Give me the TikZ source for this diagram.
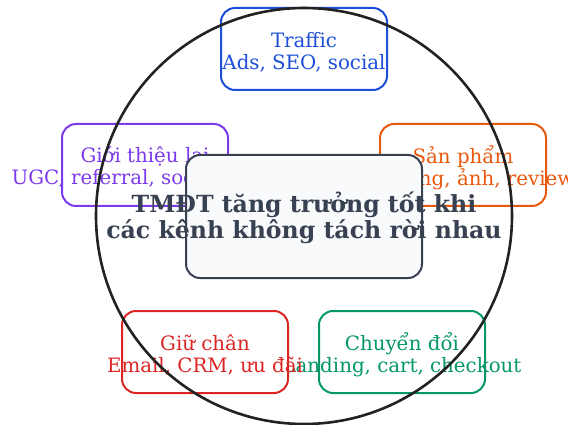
\documentclass[tikz,border=0pt]{standalone}
\usepackage{fontspec}
\setmainfont{DejaVu Serif}
\definecolor{cblue}{HTML}{1D4ED8}
\definecolor{cpurple}{HTML}{7C3AED}
\definecolor{corange}{HTML}{EA580C}
\definecolor{cred}{HTML}{DC2626}
\definecolor{cgreen}{HTML}{059669}
\definecolor{cslate}{HTML}{374151}
\definecolor{cfill}{HTML}{F8FAFC}
\definecolor{cring}{HTML}{222222}
\begin{document}
\begin{tikzpicture}[x=1pt,y=-1pt,
  card/.style={draw=#1, line width=2pt, rounded corners=14pt, minimum width=166pt, minimum height=82pt, fill=white, inner sep=0pt},
  cardtext/.style={text=#1, font=\fontsize{19.8}{22}\selectfont, align=center, inner sep=0pt},
  hub/.style={draw=cslate, line width=2pt, rounded corners=14pt, minimum width=236pt, minimum height=123pt, fill=cfill, inner sep=0pt},
  hubtext/.style={text=cslate, font=\bfseries\fontsize{23.6}{26.5}\selectfont, align=center, inner sep=0pt}]
\useasboundingbox (0,0) rectangle (568,425);
\node[card=cblue] (traffic) at (304,49) {};
\node[cardtext=cblue] (traffict) at (304,52) {Traffic\\Ads, SEO, social};
\node[card=corange] (sp) at (463,165) {};
\node[cardtext=corange] (spt) at (463,168) {Sản phẩm\\Nội dung, ảnh, review};
\node[card=cpurple] (gt) at (145,165) {};
\node[cardtext=cpurple] (gtt) at (145,168) {Giới thiệu lại\\UGC, referral, social proof};
\node[card=cgreen] (cd) at (402,352) {};
\node[cardtext=cgreen] (cdt) at (402,355) {Chuyển đổi\\Landing, cart, checkout};
\node[card=cred] (gc) at (205,352) {};
\node[cardtext=cred] (gct) at (205,355) {Giữ chân\\Email, CRM, ưu đãi};
\node[circle, draw=cring, line width=2.6pt, minimum size=416pt, inner sep=0pt] (ring) at (304,216) {};
\node[hub] (hubbox) at (304,216.5) {};
\node[hubtext] (hubt) at (304,218) {TMĐT tăng trưởng tốt khi\\các kênh không tách rời nhau};
\end{tikzpicture}
\end{document}
